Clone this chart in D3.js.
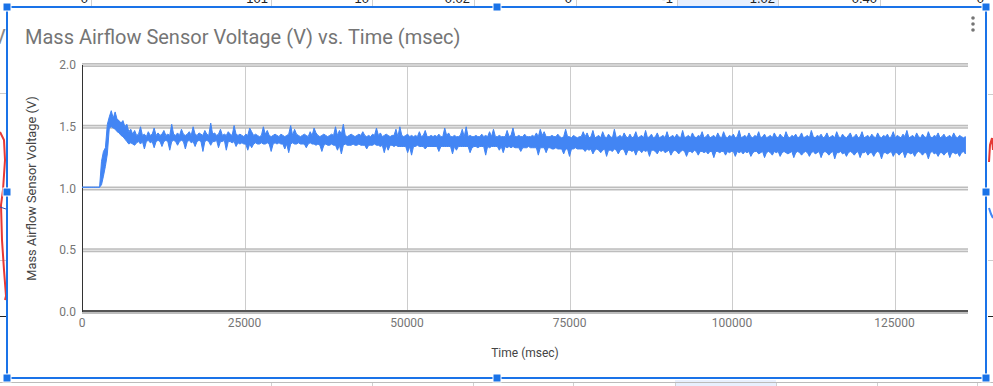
<!DOCTYPE html>
<html>
<head>
<meta charset="utf-8">
<script src="https://cdn.jsdelivr.net/npm/d3@7"></script>
<style>
  html, body { margin: 0; padding: 0; background: #fff; }
  svg { display: block; font-family: Roboto, Arial, sans-serif; }
</style>
</head>
<body>
<svg id="chart" width="993" height="386"></svg>
<script>
// chart data
const title = "Mass Airflow Sensor Voltage (V) vs. Time (msec)";
const xTitle = "Time (msec)";
const yTitle = "Mass Airflow Sensor Voltage (V)";
const xTicks = [0, 25000, 50000, 75000, 100000, 125000];
const yTicks = [0, 0.5, 1.0, 1.5, 2.0];
const xMax = 136300;

// the trace is too dense to read point by point, so it is kept as the
// highest / lowest voltage seen in each 300 ms slot
const sampleMs = 300;
const voltageHigh = [
  1.01,1.01,1.01,1.01,1.01,1.01,1.01,1.01,1.01,1.01,1.22,1.30,1.33,1.52,1.58,1.63,1.57,1.62,1.56,1.55,
  1.53,1.55,1.50,1.52,1.46,1.48,1.44,1.47,1.43,1.44,1.50,1.43,1.44,1.42,1.46,1.43,1.44,1.49,1.43,1.45,
  1.43,1.44,1.47,1.43,1.44,1.43,1.52,1.44,1.43,1.45,1.43,1.48,1.44,1.43,1.44,1.46,1.43,1.50,1.44,1.43,
  1.45,1.44,1.43,1.47,1.44,1.43,1.53,1.44,1.45,1.43,1.44,1.48,1.43,1.44,1.43,1.46,1.44,1.43,1.51,1.44,
  1.43,1.44,1.43,1.42,1.44,1.43,1.49,1.46,1.43,1.44,1.43,1.42,1.43,1.50,1.44,1.47,1.43,1.42,1.43,1.44,
  1.43,1.42,1.44,1.43,1.42,1.43,1.44,1.51,1.43,1.48,1.44,1.43,1.42,1.43,1.44,1.43,1.42,1.46,1.43,1.49,
  1.45,1.43,1.42,1.43,1.44,1.43,1.42,1.43,1.44,1.43,1.50,1.43,1.47,1.44,1.52,1.43,1.42,1.43,1.44,1.43,
  1.42,1.43,1.44,1.43,1.46,1.43,1.42,1.43,1.42,1.44,1.43,1.49,1.43,1.45,1.42,1.43,1.44,1.43,1.42,1.43,
  1.43,1.48,1.42,1.50,1.43,1.42,1.43,1.44,1.42,1.43,1.42,1.43,1.42,1.46,1.42,1.43,1.47,1.42,1.42,1.43,
  1.42,1.43,1.42,1.44,1.42,1.42,1.49,1.43,1.45,1.42,1.42,1.43,1.42,1.42,1.43,1.48,1.42,1.50,1.42,1.43,
  1.42,1.42,1.43,1.42,1.42,1.44,1.42,1.43,1.42,1.46,1.42,1.48,1.42,1.42,1.43,1.42,1.42,1.42,1.47,1.42,
  1.43,1.49,1.42,1.42,1.43,1.42,1.42,1.44,1.42,1.42,1.42,1.43,1.42,1.45,1.42,1.48,1.43,1.46,1.42,1.42,
  1.42,1.43,1.42,1.42,1.44,1.42,1.41,1.42,1.48,1.42,1.42,1.41,1.43,1.42,1.41,1.42,1.42,1.46,1.42,1.45,
  1.41,1.42,1.47,1.41,1.42,1.43,1.41,1.46,1.42,1.41,1.44,1.42,1.41,1.48,1.41,1.42,1.43,1.41,1.45,1.42,
  1.41,1.44,1.41,1.42,1.46,1.41,1.42,1.43,1.41,1.47,1.41,1.42,1.44,1.41,1.42,1.45,1.41,1.42,1.43,1.41,
  1.46,1.41,1.42,1.43,1.41,1.44,1.42,1.41,1.47,1.41,1.42,1.43,1.41,1.45,1.42,1.41,1.43,1.42,1.46,1.41,
  1.42,1.44,1.41,1.42,1.43,1.41,1.45,1.42,1.41,1.46,1.42,1.41,1.43,1.42,1.44,1.41,1.42,1.47,1.41,1.42,
  1.43,1.41,1.45,1.42,1.41,1.43,1.42,1.46,1.41,1.42,1.44,1.41,1.42,1.43,1.41,1.45,1.42,1.41,1.44,1.42,
  1.41,1.46,1.42,1.41,1.43,1.42,1.44,1.41,1.42,1.45,1.41,1.42,1.43,1.41,1.47,1.42,1.41,1.43,1.42,1.44,
  1.41,1.42,1.45,1.41,1.42,1.43,1.41,1.46,1.42,1.41,1.44,1.42,1.41,1.43,1.45,1.41,1.42,1.44,1.41,1.42,
  1.46,1.41,1.42,1.43,1.41,1.44,1.42,1.41,1.45,1.42,1.41,1.43,1.42,1.44,1.41,1.42,1.46,1.41,1.43,1.42,
  1.41,1.44,1.42,1.47,1.41,1.42,1.43,1.41,1.45,1.42,1.41,1.44,1.42,1.41,1.46,1.42,1.41,1.43,1.42,1.45,
  1.41,1.42,1.44,1.41,1.42,1.43,1.41,1.45,1.42,1.41,1.43,1.42,1.41,1.42
];
const voltageLow = [
  1.01,1.01,1.01,1.01,1.01,1.01,1.01,1.01,1.01,1.01,1.03,1.10,1.18,1.28,1.49,1.50,1.49,1.48,1.46,1.45,
  1.43,1.42,1.40,1.38,1.36,1.37,1.36,1.35,1.37,1.38,1.36,1.38,1.32,1.38,1.39,1.37,1.38,1.33,1.38,1.39,
  1.38,1.34,1.38,1.39,1.38,1.31,1.38,1.39,1.38,1.35,1.38,1.39,1.38,1.32,1.38,1.39,1.37,1.38,1.34,1.38,
  1.39,1.38,1.30,1.38,1.39,1.38,1.35,1.38,1.38,1.39,1.33,1.38,1.38,1.39,1.31,1.38,1.38,1.37,1.38,1.34,
  1.37,1.36,1.37,1.36,1.36,1.31,1.36,1.33,1.36,1.37,1.36,1.36,1.37,1.36,1.36,1.37,1.36,1.30,1.36,1.37,
  1.36,1.37,1.36,1.36,1.32,1.36,1.29,1.36,1.37,1.36,1.36,1.37,1.36,1.36,1.36,1.33,1.36,1.37,1.36,1.36,
  1.35,1.36,1.35,1.30,1.35,1.36,1.35,1.35,1.36,1.35,1.35,1.31,1.35,1.28,1.35,1.36,1.35,1.35,1.35,1.36,
  1.35,1.35,1.36,1.35,1.35,1.35,1.32,1.35,1.35,1.35,1.36,1.35,1.35,1.34,1.35,1.29,1.35,1.31,1.35,1.35,
  1.34,1.35,1.34,1.34,1.34,1.34,1.34,1.29,1.34,1.27,1.34,1.34,1.35,1.34,1.34,1.34,1.32,1.34,1.34,1.34,
  1.34,1.34,1.34,1.30,1.34,1.34,1.34,1.34,1.34,1.34,1.28,1.34,1.31,1.34,1.34,1.34,1.34,1.34,1.34,1.29,
  1.33,1.34,1.34,1.33,1.34,1.34,1.34,1.27,1.34,1.33,1.34,1.34,1.34,1.34,1.31,1.34,1.29,1.34,1.33,1.34,
  1.33,1.34,1.33,1.33,1.33,1.30,1.33,1.33,1.33,1.34,1.33,1.33,1.33,1.33,1.27,1.33,1.33,1.33,1.29,1.33,
  1.33,1.32,1.32,1.33,1.32,1.32,1.32,1.28,1.32,1.32,1.26,1.32,1.32,1.33,1.32,1.32,1.32,1.32,1.30,1.32,
  1.31,1.32,1.28,1.31,1.32,1.31,1.29,1.31,1.32,1.26,1.31,1.31,1.30,1.32,1.31,1.28,1.31,1.32,1.31,1.27,
  1.31,1.31,1.30,1.31,1.27,1.31,1.31,1.29,1.31,1.30,1.31,1.26,1.31,1.31,1.30,1.28,1.31,1.30,1.31,1.29,
  1.30,1.31,1.27,1.30,1.31,1.30,1.28,1.30,1.31,1.30,1.26,1.30,1.30,1.29,1.31,1.30,1.27,1.30,1.30,1.29,
  1.30,1.28,1.30,1.30,1.25,1.30,1.30,1.29,1.30,1.30,1.27,1.30,1.29,1.30,1.30,1.26,1.30,1.29,1.30,1.28,
  1.30,1.29,1.30,1.26,1.29,1.30,1.30,1.28,1.29,1.30,1.25,1.29,1.30,1.29,1.27,1.30,1.29,1.30,1.26,1.29,
  1.30,1.29,1.28,1.29,1.30,1.25,1.29,1.30,1.29,1.27,1.29,1.30,1.29,1.26,1.29,1.30,1.28,1.29,1.30,1.25,
  1.29,1.30,1.29,1.27,1.29,1.30,1.24,1.29,1.29,1.30,1.28,1.29,1.26,1.29,1.30,1.29,1.27,1.29,1.30,1.25,
  1.29,1.29,1.30,1.27,1.29,1.29,1.26,1.29,1.30,1.29,1.24,1.29,1.29,1.28,1.29,1.30,1.26,1.29,1.29,1.27,
  1.29,1.30,1.25,1.29,1.29,1.28,1.29,1.26,1.29,1.30,1.29,1.27,1.29,1.29,1.24,1.29,1.30,1.28,1.29,1.26,
  1.29,1.29,1.27,1.29,1.30,1.25,1.29,1.29,1.28,1.29,1.26,1.29,1.30,1.28
];

// spreadsheet row peeking above the chart
const cellEdges = [91, 271, 372, 474, 576, 677, 778, 880];
const cellTexts = ["0", "101", "10", "0.02", "0", "-1", "1.02", "0.40", "0"];

const svg = d3.select("#chart");

//*********
// spreadsheet bits around the chart
const sheet = svg.append("g");
sheet.append("rect").attr("x", 677).attr("y", 0).attr("width", 101).attr("height", 7).attr("fill", "#e8f0fe");
sheet.append("rect").attr("x", 675).attr("y", 380).attr("width", 101).attr("height", 6).attr("fill", "#e8f0fe");
cellEdges.forEach((cx) => {
  sheet.append("line").attr("x1", cx + 0.5).attr("x2", cx + 0.5).attr("y1", 0).attr("y2", 7)
    .attr("stroke", "#d0d0d0");
});
[271, 372, 473, 573, 675, 776, 877, 977].forEach((cx) => {
  sheet.append("line").attr("x1", cx + 0.5).attr("x2", cx + 0.5).attr("y1", 382).attr("y2", 386)
    .attr("stroke", "#d0d0d0");
});
sheet.append("line").attr("x1", 0).attr("x2", 993).attr("y1", 382.5).attr("y2", 382.5).attr("stroke", "#bbb");
const cellRight = [88, 268, 369, 470, 572, 673, 775, 877, 984];
cellTexts.forEach((t, i) => {
  sheet.append("text").attr("x", cellRight[i]).attr("y", 3)
    .attr("text-anchor", "end").attr("font-family", "Arial, sans-serif")
    .attr("font-size", 13).attr("fill", "#222").text(t);
});
// neighbouring charts cut off at the edges
sheet.append("text").attr("x", -7).attr("y", 44).attr("font-size", 20).attr("fill", "#888").text("V");
sheet.append("line").attr("x1", 0).attr("x2", 6).attr("y1", 93.5).attr("y2", 93.5).attr("stroke", "#ccc");
sheet.append("line").attr("x1", 0).attr("x2", 6).attr("y1", 260.5).attr("y2", 260.5).attr("stroke", "#ccc");
sheet.append("line").attr("x1", 0).attr("x2", 6).attr("y1", 316.5).attr("y2", 316.5).attr("stroke", "#222");
sheet.append("path").attr("d", "M0,132 L4,140 L5,160 L3,190 L1,205 L2,240 L4,270 L6,296 L5,300")
  .attr("fill", "none").attr("stroke", "#e53935").attr("stroke-width", 2);
sheet.append("line").attr("x1", 0).attr("x2", 6).attr("y1", 207).attr("y2", 209).attr("stroke", "#3949ab");
sheet.append("line").attr("x1", 988).attr("x2", 993).attr("y1", 94.5).attr("y2", 94.5).attr("stroke", "#ccc");
sheet.append("line").attr("x1", 988).attr("x2", 993).attr("y1", 260.5).attr("y2", 260.5).attr("stroke", "#ccc");
sheet.append("line").attr("x1", 988).attr("x2", 993).attr("y1", 316.5).attr("y2", 316.5).attr("stroke", "#222");
sheet.append("path").attr("d", "M989,162 L990,145 L992,138 L993,150")
  .attr("fill", "none").attr("stroke", "#e53935").attr("stroke-width", 2);
sheet.append("path").attr("d", "M989,208 L991,214 L993,218")
  .attr("fill", "none").attr("stroke", "#4285f4").attr("stroke-width", 2);

//*********
// the chart
const x = d3.scaleLinear().domain([0, xMax]).range([82, 968]);
const y = d3.scaleLinear().domain([0, 2]).range([312, 65]);

svg.append("text").attr("x", 25).attr("y", 44)
  .attr("font-size", 20).attr("fill", "#757575").text(title);

// menu dots
[18, 24, 30].forEach((cy) => {
  svg.append("circle").attr("cx", 973).attr("cy", cy).attr("r", 1.8).attr("fill", "#757575");
});

// vertical gridlines
svg.append("g").selectAll("line")
  .data(xTicks.filter((d) => d > 0))
  .enter().append("line")
  .attr("x1", (d) => Math.round(x(d)) + 0.5).attr("x2", (d) => Math.round(x(d)) + 0.5)
  .attr("y1", y(2)).attr("y2", y(0))
  .attr("stroke", "#cccccc");

// horizontal gridlines drawn as the grey double band
const hGrid = svg.append("g");
hGrid.selectAll("line.band")
  .data(yTicks)
  .enter().append("line").attr("class", "band")
  .attr("x1", x(0)).attr("x2", x(xMax))
  .attr("y1", (d) => y(d)).attr("y2", (d) => y(d))
  .attr("stroke", "#bdbdbd").attr("stroke-width", 4);
hGrid.selectAll("line.core")
  .data(yTicks.filter((d) => d > 0))
  .enter().append("line").attr("class", "core")
  .attr("x1", x(0)).attr("x2", x(xMax))
  .attr("y1", (d) => y(d)).attr("y2", (d) => y(d))
  .attr("stroke", "#ececec").attr("stroke-width", 1.2);

// baseline + left axis
svg.append("line").attr("x1", x(0)).attr("x2", x(xMax))
  .attr("y1", y(0) - 1).attr("y2", y(0) - 1)
  .attr("stroke", "#333").attr("stroke-width", 1.6);
svg.append("line").attr("x1", x(0) + 0.5).attr("x2", x(0) + 0.5)
  .attr("y1", y(2)).attr("y2", y(0))
  .attr("stroke", "#333").attr("stroke-width", 1);

// tick labels
svg.append("g").selectAll("text")
  .data(yTicks)
  .enter().append("text")
  .attr("x", 76).attr("y", (d) => y(d)).attr("dy", "0.35em")
  .attr("text-anchor", "end").attr("font-size", 12).attr("fill", "#757575")
  .text((d) => d.toFixed(1));
svg.append("g").selectAll("text")
  .data(xTicks)
  .enter().append("text")
  .attr("x", (d) => x(d)).attr("y", 327)
  .attr("text-anchor", "middle").attr("font-size", 12).attr("fill", "#757575")
  .text((d) => d);

// axis titles
svg.append("text").attr("x", (x(0) + x(xMax)) / 2).attr("y", 357)
  .attr("text-anchor", "middle").attr("font-size", 12).attr("fill", "#444").text(xTitle);
svg.append("text")
  .attr("transform", "translate(36," + ((y(0) + y(2)) / 2) + ") rotate(-90)")
  .attr("text-anchor", "middle").attr("font-size", 12.8).attr("fill", "#444").text(yTitle);

// the series, as a band between the slot minimum and maximum
let n = Math.min(voltageHigh.length, voltageLow.length);
let slots = d3.range(n);
const band = d3.area()
  .x((i) => x(i * sampleMs))
  .y0((i) => y(voltageLow[i]))
  .y1((i) => y(voltageHigh[i]));
svg.append("path")
  .datum(slots)
  .attr("d", band)
  .attr("fill", "#4285f4")
  .attr("stroke", "#4285f4")
  .attr("stroke-width", 1)
  .attr("stroke-linejoin", "round");

//*********
// selection frame with handles
const frame = svg.append("g");
frame.append("rect").attr("x", 7).attr("y", 7).attr("width", 979).attr("height", 371)
  .attr("fill", "none").attr("stroke", "#1a73e8").attr("stroke-width", 2);
[[7, 7], [497, 7], [986, 7], [7, 192], [986, 192], [7, 378], [497, 378], [986, 378]].forEach((p) => {
  frame.append("rect").attr("x", p[0] - 4).attr("y", p[1] - 4).attr("width", 8).attr("height", 8)
    .attr("fill", "#1a73e8").attr("stroke", "#fff").attr("stroke-width", 1);
});
</script>
</body>
</html>
